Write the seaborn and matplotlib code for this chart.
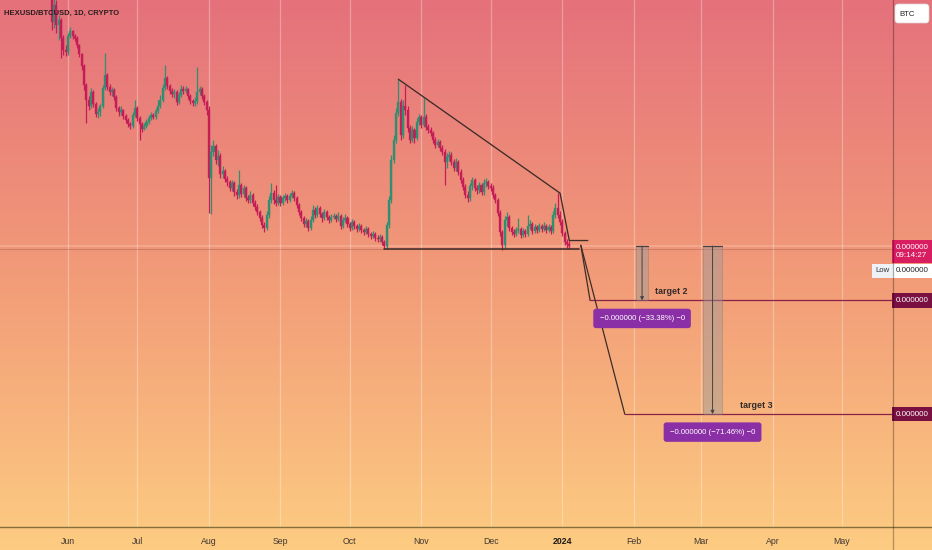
import numpy as np
import pandas as pd
import seaborn as sns
import matplotlib.pyplot as plt
import matplotlib.dates as mdates
from matplotlib.patches import Rectangle, FancyBboxPatch
from matplotlib.lines import Line2D
from matplotlib.ticker import NullLocator
from matplotlib.transforms import blended_transform_factory

# --- daily candles, prices in satoshi (log scale) ---
start_day = "2023-05-25"
first_open = 128.4
close = [
    101.2, 114.8, 98.9, 102.7, 89.8, 82.1, 80.9, 91.1, 94.6, 91.1,
    89.8, 85.2, 79.6, 72.8, 63.2, 56.5, 54.0, 60.0, 54.8, 50.9,
    51.6, 54.0, 61.8, 68.0, 62.3, 60.0, 60.9, 57.8, 53.2, 51.6,
    52.4, 50.1, 48.7, 47.2, 46.6, 50.5, 53.2, 49.4, 47.2, 45.5,
    46.6, 48.0, 49.4, 50.5, 49.8, 52.0, 54.0, 56.5, 61.8, 66.5,
    62.7, 60.4, 59.1, 60.0, 55.7, 58.6, 61.3, 60.4, 61.3, 58.2,
    56.1, 55.3, 56.1, 60.0, 61.3, 58.2, 55.7, 52.4, 31.6, 38.3,
    40.1, 36.1, 37.2, 32.5, 33.3, 31.3, 30.6, 29.3, 30.4, 28.5,
    27.8, 29.9, 28.0, 29.3, 27.2, 26.8, 27.8, 26.2, 25.4, 24.5,
    23.4, 22.2, 21.7, 23.9, 26.8, 28.2, 26.8, 26.2, 27.4, 26.2,
    27.2, 27.6, 26.8, 27.6, 28.2, 27.2, 25.8, 24.5, 23.4, 22.4,
    22.9, 21.7, 23.1, 24.9, 23.9, 25.3, 24.1, 23.4, 24.5, 23.6,
    23.1, 23.6, 23.7, 23.2, 23.7, 22.0, 23.1, 23.4, 22.4, 21.7,
    22.7, 22.0, 21.6, 22.0, 21.4, 21.1, 21.6, 20.8, 20.5, 20.8,
    20.2, 20.0, 20.3, 19.6, 19.0, 22.2, 26.8, 36.1, 41.9, 51.2,
    55.7, 43.5, 54.0, 52.4, 45.9, 41.9, 45.2, 42.5, 48.0, 49.8,
    46.9, 49.8, 46.2, 45.2, 44.2, 41.9, 40.4, 41.3, 39.5, 38.3,
    35.6, 36.9, 37.5, 35.6, 34.0, 35.6, 33.0, 31.1, 29.5, 27.8,
    27.2, 29.7, 31.1, 29.3, 28.9, 29.9, 28.5, 30.4, 30.6, 29.7,
    29.3, 27.8, 26.8, 24.3, 21.1, 19.1, 23.1, 23.6, 21.7, 21.1,
    20.8, 21.4, 21.6, 20.6, 21.2, 20.8, 22.0, 22.4, 21.2, 21.9,
    21.4, 22.0, 21.6, 22.0, 21.4, 21.9, 21.2, 23.9, 25.3, 23.9,
    22.7, 20.9, 19.6, 19.3, 19.0,
]
high = [
    138.4, 123.7, 119.2, 106.6, 104.2, 91.8, 85.2, 93.2, 97.4, 95.3,
    92.5, 91.1, 85.8, 80.3, 73.9, 64.1, 58.2, 61.8, 60.9, 55.7,
    53.2, 54.8, 63.2, 80.3, 69.0, 63.7, 62.3, 61.8, 58.6, 54.0,
    54.0, 52.8, 50.9, 49.4, 48.0, 51.6, 56.5, 54.0, 50.1, 48.0,
    47.6, 49.1, 50.5, 51.6, 51.2, 53.2, 56.5, 58.6, 63.7, 73.3,
    67.5, 63.7, 61.8, 61.3, 60.9, 60.0, 63.2, 62.7, 62.7, 61.8,
    59.1, 56.9, 57.8, 72.2, 62.7, 62.3, 59.1, 56.5, 54.0, 40.4,
    41.9, 40.7, 38.9, 38.1, 34.5, 33.8, 32.1, 31.1, 31.1, 30.9,
    29.1, 33.5, 30.4, 29.9, 29.7, 27.8, 28.7, 28.2, 26.8, 26.0,
    24.9, 23.9, 22.8, 24.7, 27.6, 30.4, 28.9, 29.9, 28.0, 27.8,
    27.8, 28.2, 28.0, 28.2, 28.9, 28.7, 27.6, 26.2, 24.9, 23.7,
    23.4, 23.2, 23.7, 25.8, 25.4, 25.8, 25.6, 24.5, 25.1, 24.9,
    23.9, 24.1, 24.3, 24.1, 24.5, 24.1, 23.6, 24.1, 23.7, 22.8,
    23.2, 23.1, 22.4, 22.6, 22.4, 21.7, 22.0, 21.9, 21.1, 21.2,
    21.1, 20.6, 20.8, 20.6, 19.9, 22.8, 27.6, 37.5, 43.5, 53.2,
    66.0, 56.9, 56.5, 63.2, 54.0, 46.9, 46.6, 45.9, 49.4, 50.9,
    50.5, 57.4, 50.9, 47.2, 46.2, 44.9, 42.8, 42.2, 41.9, 40.4,
    39.2, 38.1, 38.6, 38.3, 36.4, 36.6, 36.1, 33.8, 31.8, 30.1,
    28.7, 30.4, 31.8, 31.6, 29.9, 30.6, 30.4, 31.3, 31.6, 31.1,
    30.4, 29.9, 28.2, 27.2, 24.9, 21.4, 23.7, 24.5, 23.9, 22.0,
    21.6, 21.9, 23.4, 21.9, 21.7, 21.6, 23.9, 23.1, 22.8, 22.4,
    22.2, 22.6, 22.4, 22.8, 22.4, 22.4, 22.2, 24.7, 26.2, 28.2,
    24.7, 23.2, 21.2, 20.0, 19.7,
]
low = [
    95.3, 96.7, 93.2, 88.4, 77.2, 79.0, 78.4, 79.0, 89.8, 89.1,
    87.8, 83.3, 77.8, 70.6, 60.9, 47.6, 52.4, 53.2, 53.6, 49.8,
    49.4, 50.1, 53.2, 60.9, 60.9, 58.6, 58.2, 56.5, 52.0, 50.1,
    50.5, 49.1, 47.6, 46.2, 45.5, 45.9, 49.8, 48.3, 41.9, 44.5,
    45.2, 45.9, 47.2, 48.7, 49.1, 49.1, 51.2, 53.2, 55.7, 60.9,
    61.3, 59.1, 57.8, 57.4, 54.4, 54.8, 57.8, 59.1, 59.5, 56.9,
    54.8, 54.0, 54.0, 54.8, 58.6, 56.9, 54.4, 50.5, 24.3, 24.1,
    37.2, 35.1, 34.5, 31.6, 31.6, 30.6, 29.7, 28.7, 28.7, 27.6,
    27.0, 27.2, 27.4, 27.4, 26.6, 26.2, 26.2, 25.6, 24.9, 23.9,
    22.9, 21.7, 21.1, 21.4, 23.4, 26.2, 26.0, 25.6, 25.8, 25.6,
    25.8, 26.6, 26.2, 26.4, 27.2, 26.6, 25.3, 23.9, 22.9, 21.9,
    21.9, 21.2, 21.4, 22.7, 23.4, 23.6, 23.6, 22.7, 23.1, 23.1,
    22.6, 22.7, 23.2, 22.7, 22.9, 21.6, 21.7, 22.7, 21.9, 21.2,
    21.4, 21.6, 21.1, 21.2, 20.9, 20.6, 20.8, 20.3, 20.0, 20.2,
    19.7, 19.6, 19.6, 19.1, 18.6, 18.6, 21.7, 26.2, 35.3, 41.0,
    50.1, 41.9, 42.5, 50.5, 44.5, 41.0, 41.3, 41.0, 41.9, 46.9,
    45.9, 46.2, 45.2, 44.2, 43.2, 41.0, 39.5, 39.8, 38.6, 37.5,
    29.9, 34.0, 35.8, 34.8, 33.3, 33.3, 32.3, 30.4, 28.9, 27.2,
    26.4, 26.6, 28.9, 28.7, 28.0, 28.2, 27.8, 27.8, 29.5, 29.1,
    28.7, 27.2, 26.2, 23.7, 20.5, 18.45, 18.6, 22.0, 21.2, 20.6,
    20.3, 20.5, 20.9, 20.2, 20.3, 20.3, 20.5, 21.6, 20.8, 20.9,
    20.9, 21.1, 21.1, 21.2, 20.9, 21.1, 20.8, 20.9, 23.4, 23.4,
    22.2, 20.5, 19.1, 18.7, 18.6,
]

# --- drawings ---
support_dates = ["2023-10-16", "2024-01-08"]
support_price = [18.6, 18.6]
trend_dates = ["2023-10-22", "2023-12-31", "2024-01-04", "2024-01-12"]
trend_price = [66.0, 28.2, 19.8, 19.8]
proj_start = ("2024-01-09", 19.1)
base_price = 19.0
last_low = 18.6
target_names = ["target 2", "target 3"]
target_price = [12.66, 5.42]
target_start = ["2024-01-13", "2024-01-28"]
box_start = ["2024-02-02", "2024-03-02"]
box_end = ["2024-02-07", "2024-03-10"]
target_pct = ["\u221233.38%", "\u221271.46%"]
month_labels = ["Jun", "Jul", "Aug", "Sep", "Oct", "Nov", "Dec", "2024",
                "Feb", "Mar", "Apr", "May"]

UP = "#2f8f70"
DOWN = "#c41d58"

df = pd.DataFrame({"close": close, "high": high, "low": low})
df["date"] = pd.date_range(start_day, periods=len(df), freq="D")
df["open"] = df["close"].shift(1)
df.loc[0, "open"] = first_open
df["high"] = df[["high", "open", "close"]].max(axis=1)
df["low"] = df[["low", "open", "close"]].min(axis=1)
df["up"] = df["close"] >= df["open"]

sns.set_theme(style="white")
plt.rcParams["font.family"] = ["Liberation Sans", "DejaVu Sans"]

W, H = 932, 550
fig = plt.figure(figsize=(W / 100, H / 100), dpi=100)

# gradient background over the whole figure
bg = fig.add_axes([0, 0, 1, 1])
stops = np.array([0.0, 0.5, 1.0])
cols = np.array([[229, 113, 124], [242, 155, 120], [253, 204, 130]]) / 255
t = np.linspace(0, 1, H)
grad = np.stack([np.interp(t, stops, cols[:, k]) for k in range(3)], axis=1)
bg.imshow(grad[:, None, :], aspect="auto", extent=[0, 1, 0, 1])
bg.axis("off")

ax = fig.add_axes([0, 23 / H, 893 / W, 527 / H])
ax.set_zorder(1)
ax.set_facecolor("none")
ax.set_yscale("log")

dn = mdates.date2num(df["date"])
colors = np.where(df["up"], UP, DOWN)
body_lo = np.minimum(df["open"], df["close"])
body_h = np.maximum((df["open"] - df["close"]).abs(), df["close"] * 0.008)
ax.vlines(dn, df["low"], df["high"], colors=colors, lw=0.9, zorder=2)
ax.bar(dn, body_h, bottom=body_lo, width=0.88, color=colors, ec=colors,
       lw=0.25, zorder=2)

# price lines
ax.axhline(base_price, color="white", alpha=0.2, lw=1.2, zorder=1)
ax.axhline(last_low, color="#8c4040", alpha=0.3, lw=0.8, zorder=1)

line_col = "#3e2c28"
sns.lineplot(x=pd.to_datetime(support_dates), y=support_price, ax=ax,
             color=line_col, lw=1.1, zorder=3)
sns.lineplot(x=pd.to_datetime(trend_dates), y=trend_price, ax=ax,
             color=line_col, lw=0.95, sort=False, estimator=None, zorder=3)

trans = blended_transform_factory(ax.transAxes, ax.transData)
for name, tp, ts, b0, b1, pct in zip(target_names, target_price, target_start,
                                     box_start, box_end, target_pct):
    ts = pd.Timestamp(ts)
    sns.lineplot(x=[pd.Timestamp(proj_start[0]), ts], y=[proj_start[1], tp],
                 ax=ax, color=line_col, lw=0.9, zorder=3)
    ax.plot([mdates.date2num(ts), ax.get_xlim()[1] + 1000], [tp, tp],
            color="#8a2248", lw=0.9, zorder=3)
    b0n = mdates.date2num(pd.Timestamp(b0))
    b1n = mdates.date2num(pd.Timestamp(b1))
    ax.add_patch(Rectangle((b0n, tp), b1n - b0n, base_price - tp,
                           fc="#9a9a9a", alpha=0.45, ec="#707070", lw=0.5,
                           zorder=3))
    ax.plot([b0n, b1n], [base_price, base_price], color="#4a4040", lw=0.9,
            zorder=3)
    mid = (b0n + b1n) / 2
    ax.annotate("", xy=(mid, tp), xytext=(mid, base_price),
                arrowprops=dict(arrowstyle="-|>", color="#444", lw=0.7,
                                mutation_scale=5, shrinkA=0, shrinkB=0),
                zorder=4)
    ax.annotate(f"\u22120.000000 ({pct}) \u22120", xy=(mid, tp),
                xytext=(0, -18), textcoords="offset pixels", ha="center",
                va="center", fontsize=5.6, color="white", zorder=5,
                bbox=dict(boxstyle="round,pad=0.8,rounding_size=0.35",
                          fc="#8a2fa6", ec="none"))
    ax.annotate(f"{tp / 1e8:.6f}", xy=(1, tp), xycoords=trans,
                xytext=(2.5, 0), textcoords="offset pixels", ha="left",
                va="center", fontsize=5.8, color="white", annotation_clip=False,
                bbox=dict(boxstyle="square,pad=0.45", fc="#7a0f42", ec="none"))

ax.annotate("target 2", xy=(pd.Timestamp("2024-02-17"), target_price[0]),
            xytext=(0, 4), textcoords="offset pixels", fontsize=6.4,
            fontweight="bold", color="#332a2a", ha="center", va="bottom",
            zorder=5)
ax.annotate("target 3", xy=(pd.Timestamp("2024-03-25"), target_price[1]),
            xytext=(0, 4), textcoords="offset pixels", fontsize=6.4,
            fontweight="bold", color="#332a2a", ha="center", va="bottom",
            zorder=5)

# right-hand price labels
ax.annotate(f"{base_price / 1e8:.6f}\n09:14:27", xy=(1, base_price),
            xycoords=trans, xytext=(2.5, -5.5), textcoords="offset pixels",
            ha="left", va="center", fontsize=5.8, color="white",
            linespacing=1.35, annotation_clip=False,
            bbox=dict(boxstyle="square,pad=0.45", fc="#d81d61", ec="none"))
ax.annotate(f"{last_low / 1e8:.6f}", xy=(1, last_low), xycoords=trans,
            xytext=(2.5, -22), textcoords="offset pixels", ha="left",
            va="center", fontsize=5.8, color="#222", annotation_clip=False,
            bbox=dict(boxstyle="square,pad=0.45", fc="white", ec="none"))
ax.annotate("Low", xy=(1, last_low), xycoords=trans, xytext=(-3, -22),
            textcoords="offset pixels", ha="right", va="center", fontsize=5.6,
            color="#333", annotation_clip=False,
            bbox=dict(boxstyle="square,pad=0.45", fc="#eef1f6", ec="none"))

# axes limits and ticks
x0 = pd.Timestamp("2023-06-01") - pd.Timedelta(days=29.4)
x1 = pd.Timestamp("2023-06-01") + pd.Timedelta(days=357.1)
ax.set_xlim(x0, x1)
ax.set_ylim(2.334, 119.2)
ax.set_xlabel("")
ax.set_ylabel("")
ticks = pd.date_range("2023-06-01", periods=len(month_labels), freq="MS")
ax.set_xticks(ticks)
ax.set_xticklabels(month_labels)
ax.tick_params(axis="x", length=0, pad=7, labelsize=6.3, labelcolor="#3f3732")
for lbl in ax.get_xticklabels():
    if lbl.get_text() == "2024":
        lbl.set_fontweight("bold")
        lbl.set_color("#1e1a18")
ax.set_yticks([])
ax.yaxis.set_minor_locator(NullLocator())
ax.grid(axis="x", color="white", alpha=0.3, lw=0.9)
for s in ax.spines.values():
    s.set_visible(False)

# frame lines of the chart
fig.add_artist(Line2D([0, 1], [23 / H, 23 / H], color="#7a6636", alpha=0.9,
                      lw=1.0, transform=fig.transFigure))
fig.add_artist(Line2D([893 / W, 893 / W], [0, 1], color="black", alpha=0.3,
                      lw=0.9, transform=fig.transFigure))

fig.text(4 / W, 1 - 13 / H, "HEXUSD/BTCUSD, 1D, CRYPTO", fontsize=5.5,
         fontweight="bold", color="#2b1d1d", va="center")
fig.add_artist(FancyBboxPatch((8.95, 5.27), 0.34, 0.19,
                              boxstyle="round,pad=0,rounding_size=0.03",
                              fc="white", ec="#d8d8d8", lw=0.5,
                              transform=fig.dpi_scale_trans))
fig.text(899 / W, 1 - 14 / H, "BTC", fontsize=5.6, color="#222", va="center")

fig.savefig("out.png", dpi=100)
